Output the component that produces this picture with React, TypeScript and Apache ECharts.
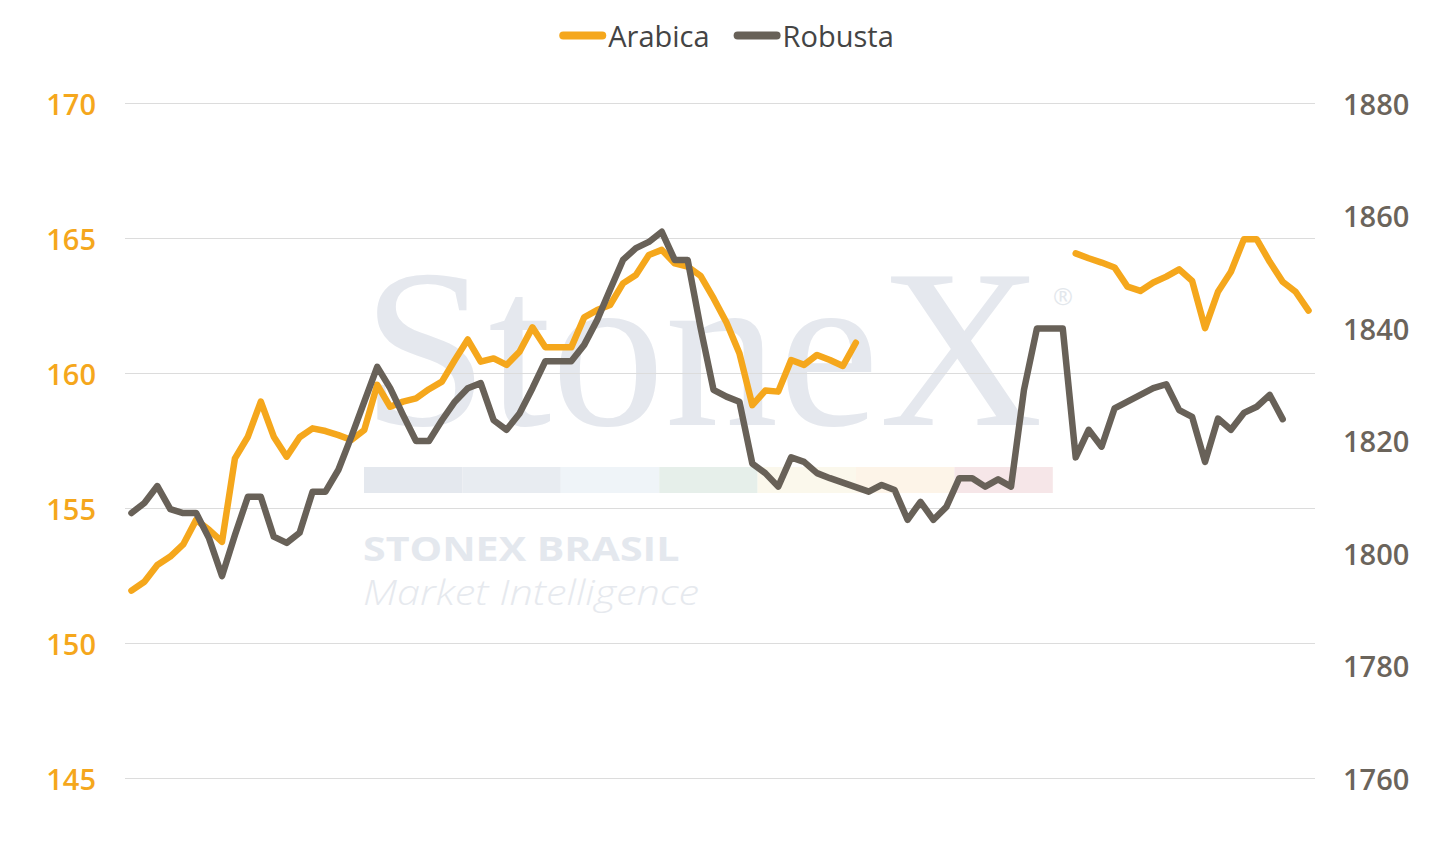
import React, { useEffect, useRef } from "react";
import * as echarts from "echarts";

const categories: string[] = Array.from({ length: 92 }, (_, i) => String(i + 1));

const arabica: (number | null)[] = [
  151.94, 152.27, 152.89, 153.2, 153.65, 154.56, 154.19, 153.75, 156.84, 157.64,
  158.94, 157.64, 156.9, 157.62, 157.95, 157.85, 157.7, 157.52, 157.89, 159.56,
  158.75, 158.94, 159.06, 159.4, 159.68, 160.48, 161.24, 160.42, 160.54, 160.3,
  160.79, 161.69, 160.95, 160.95, 160.95, 162.06, 162.33, 162.52, 163.32, 163.63,
  164.37, 164.56, 164.06, 163.94, 163.6, 162.77, 161.87, 160.73, 158.81, 159.35,
  159.31, 160.48, 160.3, 160.67, 160.48, 160.26, 161.12,
  null, null, null, null, null, null, null, null, null, null, null, null, null, null, null, null,
  164.43, 164.25, 164.09, 163.91, 163.2, 163.04, 163.35, 163.57, 163.84, 163.41,
  161.66, 163.01, 163.75, 164.95, 164.95, 164.12, 163.38, 163.01, 162.31,
];

const robusta: (number | null)[] = [
  1807.1, 1808.9, 1811.9, 1807.8, 1807.1, 1807.1, 1802.6, 1795.9, 1803.2, 1810.0,
  1810.0, 1802.9, 1801.8, 1803.6, 1810.9, 1810.9, 1814.8, 1820.7, 1826.9, 1833.1,
  1829.3, 1824.5, 1819.9, 1819.9, 1823.6, 1826.9, 1829.3, 1830.2, 1823.6, 1821.9,
  1824.8, 1829.3, 1834.1, 1834.1, 1834.1, 1837.0, 1841.4, 1846.8, 1852.1, 1854.2,
  1855.3, 1857.1, 1852.1, 1852.1, 1840.0, 1829.0, 1827.8, 1826.9, 1815.9, 1814.2,
  1811.8, 1817.0, 1816.2, 1814.2, 1813.3, 1812.5, 1811.7, 1810.9, 1812.1, 1811.2,
  1805.9, 1809.1, 1805.9, 1808.2, 1813.3, 1813.3, 1811.8, 1813.1, 1811.8, 1829.0,
  1839.9, 1839.9, 1839.9, 1817.0, 1821.9, 1818.9, 1825.7, 1826.9, 1828.1, 1829.3,
  1830.0, 1825.4, 1824.2, 1816.2, 1823.9, 1821.9, 1824.9, 1826.0, 1828.1, 1823.8,
  null, null,
];

const seriesNames = ["Arabica", "Robusta"];
const leftTicks = { min: 145, max: 170, interval: 5 };
const rightTicks = { min: 1760, max: 1880, interval: 20 };

const ORANGE = "#F5A71C";
const BROWN = "#686158";
const FONT = "'Open Sans', 'Noto Sans', sans-serif";
const bandColors = ["#e4e8ee", "#e8ecf1", "#eff4f8", "#e6efea", "#fbf8ec", "#fdf4e8", "#f6e6e8"];

const legendIcon = "path://M4,0 H43 A4,4 0 0 1 43,8 H4 A4,4 0 0 1 4,0 Z";

export default function App() {
  const ref = useRef<HTMLDivElement>(null);
  useEffect(() => {
    if (!ref.current) return;
    const chart = echarts.init(ref.current, null, { renderer: "svg" });
    const bandX0 = 364;
    const bandW = 98.4;
    const graphics: any[] = [
      {
        type: "text",
        x: 362,
        y: 348,
        z: -10,
        silent: true,
        style: {
          text: "StoneX",
          fontFamily: "'Liberation Serif', 'DejaVu Serif', serif",
          fontSize: 227,
          fill: "#e5e8ee",
          textAlign: "left",
          textVerticalAlign: "middle",
        },
      },
      {
        type: "text",
        x: 1053,
        y: 295,
        z: -10,
        silent: true,
        style: {
          text: "®",
          fontFamily: FONT,
          fontSize: 24,
          fill: "#e3e7ec",
          textAlign: "left",
          textVerticalAlign: "middle",
        },
      },
      ...bandColors.map((c, i) => ({
        type: "rect",
        z: -10,
        silent: true,
        shape: { x: bandX0 + i * bandW, y: 467, width: bandW, height: 26 },
        style: { fill: c },
      })),
      {
        type: "text",
        x: 363,
        y: 548,
        scaleX: 1.21,
        z: -10,
        silent: true,
        style: {
          text: "STONEX BRASIL",
          fontFamily: FONT,
          fontWeight: 700,
          fontSize: 34,
          fill: "#e4e8ee",
          textAlign: "left",
          textVerticalAlign: "middle",
        },
      },
      {
        type: "text",
        x: 363,
        y: 592,
        scaleX: 1.22,
        z: -10,
        silent: true,
        style: {
          text: "Market Intelligence",
          fontFamily: FONT,
          fontStyle: "italic",
          fontWeight: 300,
          fontSize: 34,
          fill: "#e6e9ee",
          textAlign: "left",
          textVerticalAlign: "middle",
        },
      },
    ];

    chart.setOption({
      animation: false,
      backgroundColor: "#ffffff",
      textStyle: { fontFamily: FONT },
      legend: {
        data: seriesNames,
        left: "center",
        top: 16,
        icon: legendIcon,
        itemWidth: 47,
        itemHeight: 8,
        itemGap: 24,
        textStyle: { color: "#444444", fontSize: 29, fontFamily: FONT, padding: [0, 0, 0, -3] },
      },
      grid: { left: 125, right: 138, top: 103, bottom: 64 },
      xAxis: {
        type: "category",
        data: categories,
        boundaryGap: true,
        axisLine: { show: false },
        axisTick: { show: false },
        axisLabel: { show: false },
        splitLine: { show: false },
      },
      yAxis: [
        {
          type: "value",
          position: "left",
          min: leftTicks.min,
          max: leftTicks.max,
          interval: leftTicks.interval,
          axisLine: { show: false },
          axisTick: { show: false },
          axisLabel: {
            color: ORANGE,
            fontSize: 29,
            fontWeight: 600,
            margin: 29,
            fontFamily: FONT,
            formatter: (v: number) => String(v),
          },
          splitLine: { show: true, lineStyle: { color: "#dcdcdc", width: 1 } },
        },
        {
          type: "value",
          position: "right",
          min: rightTicks.min,
          max: rightTicks.max,
          interval: rightTicks.interval,
          axisLine: { show: false },
          axisTick: { show: false },
          axisLabel: {
            color: "#6b645b",
            fontSize: 29,
            fontWeight: 600,
            margin: 28,
            fontFamily: FONT,
            formatter: (v: number) => String(v),
          },
          splitLine: { show: false },
        },
      ],
      graphic: { elements: graphics },
      series: [
        {
          name: seriesNames[0],
          type: "line",
          yAxisIndex: 0,
          data: arabica,
          showSymbol: false,
          connectNulls: false,
          color: ORANGE,
          lineStyle: { color: ORANGE, width: 6.5, cap: "round", join: "round" },
          z: 3,
        },
        {
          name: seriesNames[1],
          type: "line",
          yAxisIndex: 1,
          data: robusta,
          showSymbol: false,
          connectNulls: false,
          color: BROWN,
          lineStyle: { color: BROWN, width: 6.5, cap: "round", join: "round" },
          z: 4,
        },
      ],
    });
    return () => chart.dispose();
  }, []);
  return (
    <div
      ref={ref}
      style={{ position: "fixed", left: 0, top: 0, width: 1453, height: 842, background: "#fff" }}
    />
  );
}
